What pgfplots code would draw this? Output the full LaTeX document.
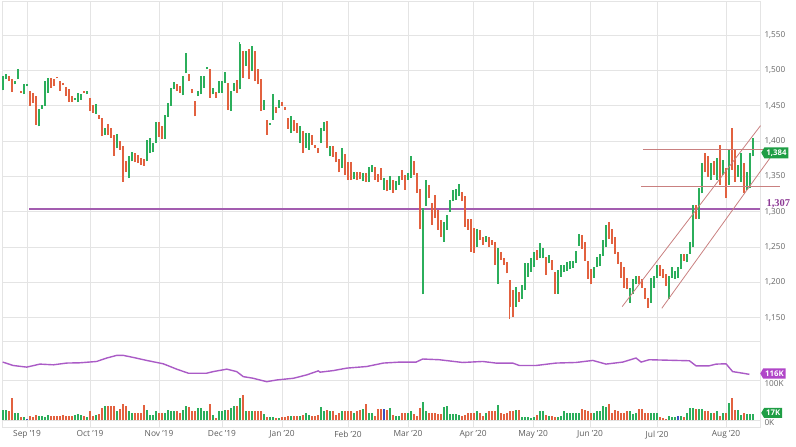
\documentclass[border=0pt]{standalone}
\usepackage{fontspec}
\setmainfont{Open Sans}
\newfontfamily\serifb{Liberation Serif}
\usepackage{pgfplots}
\usepackage{pgfplotstable}
\pgfplotsset{compat=1.18}
\usetikzlibrary{shapes.symbols}
\definecolor{cgreen}{HTML}{2BAE5B}
\definecolor{cred}{HTML}{E2613F}
\definecolor{cblue}{HTML}{3A4FC0}
\definecolor{hline}{HTML}{A35DB0}
\definecolor{maline}{HTML}{AA5BC6}
\definecolor{chan}{HTML}{C98080}
\definecolor{gridg}{HTML}{E4E4E4}
\definecolor{labg}{HTML}{666666}
\definecolor{boxgreen}{HTML}{1F9E45}
\definecolor{boxpurple}{HTML}{B046C8}
\definecolor{txtpurple}{HTML}{8E3C96}

\pgfplotstableread{
i lo hi v
0 1471.8 1492.2 27
1 1487.4 1495.5 27
4 1480.3 1485.1 19
5 1487.4 1501.7 19
7 1466.1 1480.3 10
8 1478.0 1481.3 5
12 1421.1 1446.2 12
13 1446.2 1451.9 12
14 1450.5 1485.1 10
15 1468.5 1489.8 14
24 1459.0 1461.4 14
25 1455.2 1468.5 17
26 1459.0 1466.1 14
28 1466.1 1470.9 10
31 1439.1 1453.3 15
34 1409.3 1418.7 37
38 1390.3 1410.7 23
42 1347.6 1378.4 23
43 1371.3 1384.1 20
48 1371.3 1402.1 27
49 1383.2 1404.5 14
50 1384.1 1397.4 14
51 1397.4 1426.8 25
54 1403.1 1437.7 19
55 1434.4 1454.3 27
56 1449.5 1475.6 25
57 1473.2 1483.7 25
60 1464.7 1492.2 27
61 1496.0 1524.4 37
65 1463.7 1470.9 31
66 1466.1 1492.2 31
67 1475.6 1492.2 25
68 1501.7 1505.0 25
70 1466.1 1475.6 14
72 1467.5 1485.1 23
73 1468.5 1485.1 25
74 1482.7 1497.9 27
76 1442.4 1470.9 31
77 1470.9 1482.7 37
79 1473.2 1537.2 57
81 1506.4 1527.7 23
83 1499.3 1534.8 23
87 1444.8 1459.0 17
89 1423.5 1426.0 8.5
90 1430.6 1466.1 8.5
92 1447.2 1458.1 6
96 1411.6 1436.3 12
99 1397.4 1421.1 12
101 1390.3 1411.6 19
102 1387.9 1411.6 14
106 1397.4 1418.7 34
107 1414.0 1426.8 23
109 1378.4 1392.7 23
113 1362.0 1390.3 25
117 1346.0 1357.0 20
120 1343.0 1355.0 29
122 1342.0 1363.0 19
123 1357.0 1366.0 20
127 1331.3 1347.9 30
129 1331.3 1350.2 31
131 1330.3 1343.1 12
132 1338.4 1350.2 12
135 1345.5 1355.0 20
136 1347.9 1378.7 23
140 1183.4 1305.2 46
141 1308.5 1344.6 23
147 1257.8 1286.3 34
148 1274.4 1295.7 36
149 1300.5 1317.1 17
150 1314.7 1331.3 17
151 1317.1 1332.2 17
152 1321.8 1339.8 14
158 1250.7 1275.4 23
161 1257.8 1265.9 19
165 1198.6 1248.4 40
171 1165.4 1193.9 27
173 1177.3 1196.2 8.5
174 1189.1 1227.0 8.5
175 1208.1 1228.0 8.5
176 1215.2 1234.1 6
177 1222.3 1243.6 8.5
179 1234.1 1255.5 23
180 1234.1 1248.4 23
182 1227.0 1238.9 12
185 1184.4 1217.6 8.5
186 1208.1 1224.7 12
187 1215.2 1224.7 23
188 1216.7 1228.6 19
189 1219.0 1231.0 19
190 1221.0 1231.0 19
191 1228.0 1245.0 19
192 1252.4 1269.0 20
197 1207.1 1221.4 19
198 1221.4 1235.7 25
199 1223.8 1240.5 25
200 1238.1 1259.5 37
201 1250.0 1281.0 34
209 1171.4 1192.9 23
210 1183.3 1204.8 17
211 1197.6 1209.5 19
216 1171.4 1207.1 19
217 1192.9 1209.5 19
218 1207.1 1225.2 19
222 1176.2 1209.5 12
223 1207.1 1221.4 8.5
224 1204.8 1216.7 8.5
225 1207.1 1221.4 12
226 1219.0 1240.5 12
228 1228.6 1240.5 19
229 1240.5 1257.1 31
230 1250.0 1309.5 31
232 1290.5 1333.3 29
233 1326.2 1369.0 29
236 1345.2 1369.0 20
238 1345.2 1376.2 25
240 1352.4 1373.8 19
242 1338.1 1388.1 44
245 1350.0 1366.7 27
246 1342.9 1383.3 14
248 1331.0 1357.1 17
249 1333.3 1383.3 17
250 1378.6 1404.8 17
}\Gtab

\pgfplotstableread{
i lo hi v
2 1485.1 1492.2 25
3 1469.9 1487.4 57
6 1468.5 1470.9 8
9 1449.5 1470.9 12
10 1454.3 1468.5 10
11 1423.5 1463.7 14
16 1475.6 1489.8 12
17 1478.0 1487.4 12
18 1488.9 1490.8 12
19 1470.9 1485.1 12
20 1478.9 1481.8 14
21 1463.7 1477.0 12
22 1455.2 1473.2 12
23 1455.2 1463.7 12
27 1468.5 1470.9 12
29 1442.4 1461.4 25
30 1440.1 1451.9 12
32 1431.5 1437.7 17
33 1406.9 1433.0 31
35 1409.3 1424.9 37
36 1404.5 1418.7 37
37 1379.4 1409.3 37
39 1387.9 1399.8 30
40 1342.9 1392.7 42
41 1357.1 1371.3 37
44 1369.9 1383.2 20
45 1369.0 1380.8 20
46 1366.6 1376.1 19
47 1365.2 1374.7 40
52 1405.9 1426.8 19
53 1403.1 1421.1 19
58 1470.9 1480.3 23
59 1468.5 1478.0 19
62 1485.0 1494.6 33
63 1467.5 1474.2 23
64 1435.3 1456.6 23
69 1461.4 1502.6 42
71 1461.4 1469.4 6
75 1443.8 1482.7 27
78 1468.5 1486.5 36
80 1489.8 1527.7 65
82 1487.4 1530.1 23
84 1485.1 1527.7 25
85 1480.3 1501.7 25
86 1442.4 1487.4 25
88 1409.3 1430.6 8.5
91 1440.1 1448.6 6
93 1450.5 1455.2 8.5
94 1444.8 1448.6 8.5
95 1417.3 1433.0 12
97 1414.0 1430.6 12
98 1411.6 1425.9 12
100 1383.2 1414.0 14
103 1395.0 1409.3 12
104 1390.3 1395.0 12
105 1383.2 1390.3 14
108 1390.3 1428.0 27
110 1378.0 1392.7 23
111 1370.0 1385.0 14
112 1356.0 1375.0 20
114 1352.0 1382.0 25
115 1345.0 1371.0 25
116 1345.0 1370.0 23
118 1345.0 1357.0 23
119 1346.0 1357.0 27
121 1342.0 1355.0 42
124 1345.0 1364.0 12
125 1342.0 1353.0 29
126 1345.5 1362.0 29
128 1329.0 1345.5 27
130 1326.5 1345.5 14
133 1345.5 1359.7 19
134 1331.3 1352.6 19
137 1352.6 1371.6 17
138 1326.5 1355.0 12
139 1275.4 1332.2 31
142 1319.4 1338.4 19
143 1281.5 1312.3 20
144 1291.0 1324.2 19
145 1274.4 1302.8 17
146 1264.9 1288.6 17
153 1314.7 1327.5 12
154 1279.2 1321.8 14
155 1274.4 1289.6 20
156 1243.6 1289.6 19
157 1242.2 1276.8 19
159 1260.2 1274.4 20
160 1253.1 1265.0 12
162 1250.7 1265.0 23
163 1253.1 1260.2 25
164 1224.7 1257.8 25
166 1231.8 1243.6 19
167 1224.7 1234.1 17
168 1212.8 1229.4 19
169 1165.4 1203.3 23
170 1151.2 1189.1 25
172 1172.5 1186.7 27
178 1231.8 1246.0 14
181 1210.4 1236.5 14
183 1217.6 1231.8 12
184 1184.4 1215.2 8.5
193 1247.6 1266.7 29
194 1231.0 1257.1 27
195 1204.8 1231.0 23
196 1197.6 1219.0 19
202 1261.9 1285.7 42
203 1254.8 1276.2 20
204 1240.5 1264.3 27
205 1226.2 1242.9 23
206 1207.1 1228.6 20
207 1192.9 1221.4 20
208 1190.5 1207.1 25
212 1197.6 1209.5 30
213 1192.9 1204.8 30
214 1176.2 1192.9 19
215 1164.3 1178.6 19
219 1209.5 1225.2 8.5
220 1207.1 1219.0 6
221 1195.2 1211.9 3.5
227 1231.0 1240.5 8.5
231 1290.5 1309.5 29
234 1357.1 1383.3 25
235 1350.0 1378.6 23
237 1352.4 1371.4 20
239 1338.1 1395.2 12
241 1319.0 1361.9 19
243 1359.5 1419.0 57
244 1342.9 1388.1 27
247 1326.2 1369.0 19
}\Rtab

\pgfplotstableread{
i v
8 5
127 30
225 12
}\Btab

\pgfplotsset{
  chartbase/.style={
    scale only axis, width=758pt,
    xmin=-0.233, xmax=252.43,
    xtick={8.1,29.1,52.1,73.1,93.1,115.1,135.1,156.8,176.8,195.8,218.1,241.1},
    grid=major,
    grid style={draw=gridg, line width=0.9pt},
    axis line style={draw=gridg, line width=0.9pt},
    major tick length=0pt,
    yticklabel pos=right,
    /pgf/number format/assume math mode=true,
    /pgf/number format/1000 sep={,},
    yticklabel style={font=\fontsize{8.2}{9}\selectfont, text=labg, xshift=1pt},
    xticklabel style={font=\fontsize{8.4}{9}\selectfont, text=labg!90!black},
  },
  candle/.style={draw=none, mark=none, error bars/.cd, y dir=plus, y explicit,
    error mark=none, error bar style={draw=#1, line width=2.2pt}},
}

\begin{document}
\begin{tikzpicture}
\useasboundingbox (0,0) rectangle (796pt,447pt);
% main price panel
\begin{axis}[chartbase,
  at={(2pt,105.3pt)}, anchor=south west, height=340pt,
  ymin=1116.3, ymax=1597.4,
  ytick={1150,1200,...,1550},
  xticklabels={},
  clip=false]
\addplot[color=hline, line width=2.6pt] coordinates {(8.8,1304) (252.43,1304)};
\addplot[candle=cgreen] table[x=i, y=lo, y error expr=\thisrow{hi}-\thisrow{lo}] {\Gtab};
\addplot[candle=cred] table[x=i, y=lo, y error expr=\thisrow{hi}-\thisrow{lo}] {\Rtab};
\addplot[color=cgreen, line width=1.4pt] coordinates {(79,1537) (79,1541)};
\addplot[color=cred, line width=1.4pt] coordinates {(169,1149) (169,1165)};
% support / resistance and channel
\addplot[color=chan, line width=0.8pt] coordinates {(213.4,1388) (256,1388)};
\addplot[color=chan, line width=0.8pt] coordinates {(212.8,1336) (259,1336)};
\addplot[color=chan, line width=0.8pt] coordinates {(206.5,1166) (252.6,1422)};
\addplot[color=chan, line width=0.8pt] coordinates {(219.7,1163.6) (256.4,1380)};
\node[signal, signal to=west, signal pointer angle=120, fill=boxgreen, text=white,
  font=\bfseries\fontsize{7.8}{8}\selectfont, inner xsep=2pt, inner ysep=2.2pt, anchor=west]
  at (axis cs:252.43,1383.6) [xshift=1pt] {1,384};
\node[anchor=west, text=txtpurple, font=\serifb\bfseries\fontsize{10.5}{11}\selectfont]
  at (axis cs:252.43,1307) [xshift=3pt, yshift=3.5pt] {1,307};
\end{axis}
% volume panel
\begin{axis}[chartbase,
  at={(2pt,19.7pt)}, anchor=south west, height=85.6pt,
  ymin=-17.1, ymax=198,
  ytick={0,100}, yticklabels={0K,100K},
  yticklabel style={yshift=-2.5pt},
  xticklabels={Sep '19,Oct '19,Nov '19,Dec '19,Jan '20,Feb '20,Mar '20,Apr '20,May '20,Jun '20,Jul '20,Aug '20},
  clip=false]
\addplot[candle=cgreen] table[x=i, y expr=0, y error expr=\thisrow{v}] {\Gtab};
\addplot[candle=cred] table[x=i, y expr=0, y error expr=\thisrow{v}] {\Rtab};
\addplot[candle=cblue] table[x=i, y expr=0, y error expr=\thisrow{v}] {\Btab};
\addplot[color=maline, line width=1.4pt] coordinates {
(0,146.8) (3.5,138.2) (8,134.1) (12.4,141.7) (16.9,139.9) (21.3,144.3) (25.8,145)
(31.3,148.3) (34.7,157) (38,163.6) (40.2,163.6) (43.5,158.5) (48,150.9) (53.5,142.5)
(58,129) (61.9,118.8) (68,118.8) (70.2,122.9) (74.7,129) (78,122.9) (80.2,110.2)
(83.5,106.1) (88,97.5) (91.3,101.8) (96.9,106.1) (101.3,114.5) (105.2,124.7)
(105.8,121.4) (110.2,125.4) (114.7,131.6) (121.3,135.6) (126.9,144.3) (132.4,146.8)
(137.8,146.8) (140,154.5) (145.5,152.7) (153.3,145.8) (160,148.3) (164.4,144.3)
(170,144.3) (172.2,138.2) (177.8,138.2) (184.4,144.3) (191.1,145.8) (196.7,150.9)
(201.1,141.7) (206.7,146.8) (211.1,157) (212.8,146.8) (215.5,152.7) (228.9,150.1)
(231.1,137.4) (235.5,137.4) (237.8,141.7) (241.1,142.5) (243.3,122.9) (246.7,118.8)
(248.9,116)};
\node[signal, signal to=west, signal pointer angle=120, fill=boxpurple, text=white,
  font=\bfseries\fontsize{7.8}{8}\selectfont, inner xsep=2pt, inner ysep=2.2pt, anchor=west]
  at (axis cs:252.43,118) [xshift=0pt] {116K};
\node[signal, signal to=west, signal pointer angle=120, fill=boxgreen, text=white,
  font=\bfseries\fontsize{7.8}{8}\selectfont, inner xsep=2pt, inner ysep=2.2pt, anchor=west]
  at (axis cs:252.43,19) [xshift=1pt] {17K};
\end{axis}
\end{tikzpicture}
\end{document}
